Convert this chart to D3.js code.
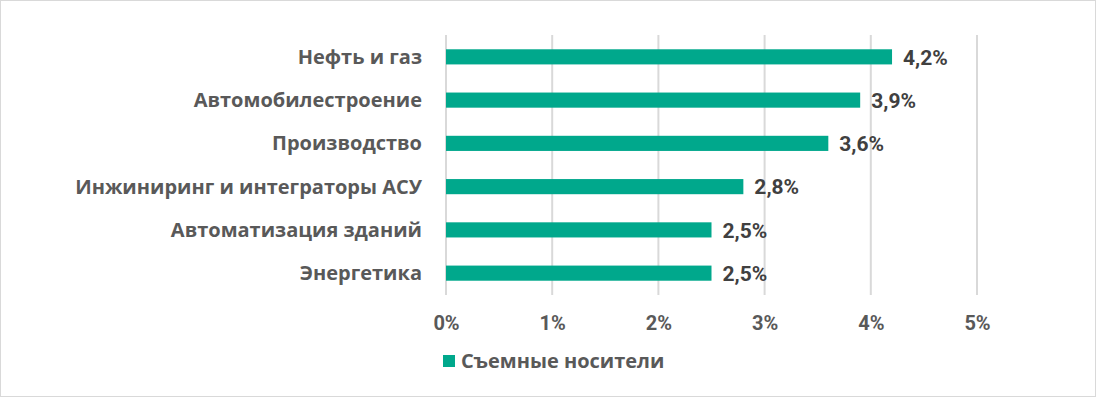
<!DOCTYPE html>
<html>
<head>
<meta charset="utf-8">
<script src="https://cdn.jsdelivr.net/npm/d3@7"></script>
<style>
body { margin: 0; background: #fff; }
svg text { font-family: "Open Sans", sans-serif; }
</style>
</head>
<body>
<svg id="chart"></svg>
<script>
const categories = ["Нефть и газ", "Автомобилестроение", "Производство",
  "Инжиниринг и интеграторы АСУ", "Автоматизация зданий", "Энергетика"];
const values = [4.2, 3.9, 3.6, 2.8, 2.5, 2.5];
const ticks = [0, 1, 2, 3, 4, 5];
const seriesName = "Съемные носители";

const width = 1096, height = 397;
const svg = d3.select("#chart").attr("width", width).attr("height", height);

svg.append("rect")
  .attr("x", 0.5).attr("y", 0.5)
  .attr("width", width - 1).attr("height", height - 1)
  .attr("fill", "#fff").attr("stroke", "#d9d9d9");

const x = d3.scaleLinear().domain([0, 5]).range([446, 977]);
const y = d3.scaleBand().domain(categories).range([35, 295]).paddingInner(0.65).paddingOuter(0.33);

// grid
svg.selectAll("line.grid")
  .data(ticks)
  .enter()
  .append("line")
  .attr("class", "grid")
  .attr("x1", d => x(d)).attr("x2", d => x(d))
  .attr("y1", 35).attr("y2", 295)
  .attr("stroke", "#d9d9d9")
  .attr("stroke-width", 2);

const xAxis = d3.axisBottom(x)
  .tickValues(ticks)
  .tickSize(0)
  .tickPadding(0)
  .tickFormat(d => d + "%");

svg.append("g")
  .attr("transform", "translate(0, 316)")
  .call(xAxis)
  .call(g => g.select(".domain").remove())
  .selectAll("text")
  .attr("fill", "#595959")
  .style("font-family", "Roboto, sans-serif")
  .style("font-size", "20px")
  .style("font-weight", "bold");

svg.selectAll("rect.bar")
  .data(values)
  .enter()
  .append("rect")
  .attr("class", "bar")
  .attr("x", x(0))
  .attr("y", (d, i) => y(categories[i]))
  .attr("width", d => x(d) - x(0))
  .attr("height", y.bandwidth())
  .attr("fill", "#00a88c");

svg.selectAll("text.label")
  .data(categories)
  .enter()
  .append("text")
  .attr("class", "label")
  .attr("x", 422)
  .attr("y", d => y(d) + y.bandwidth() / 2)
  .attr("dy", "0.35em")
  .style("text-anchor", "end")
  .style("font-size", "20px")
  .style("font-weight", "bold")
  .attr("fill", "#595959")
  .text(d => d);

svg.selectAll("text.valueLabel")
  .data(values)
  .enter()
  .append("text")
  .attr("class", "valueLabel")
  .attr("x", d => x(d) + 11)
  .attr("y", (d, i) => y(categories[i]) + y.bandwidth() / 2)
  .attr("dy", "0.37em")
  .style("font-family", "Roboto, sans-serif")
  .style("font-size", "21px")
  .style("font-weight", "bold")
  .attr("fill", "#404040")
  .text(d => d3.format(".1f")(d).replace(".", ",") + "%");

// legend
svg.append("rect")
  .attr("x", 443).attr("y", 355)
  .attr("width", 12).attr("height", 12)
  .attr("fill", "#00a88c");

svg.append("text")
  .attr("x", 461).attr("y", 361)
  .attr("dy", "0.36em")
  .style("font-size", "20px")
  .style("font-weight", "bold")
  .attr("fill", "#595959")
  .text(seriesName);
</script>
</body>
</html>
